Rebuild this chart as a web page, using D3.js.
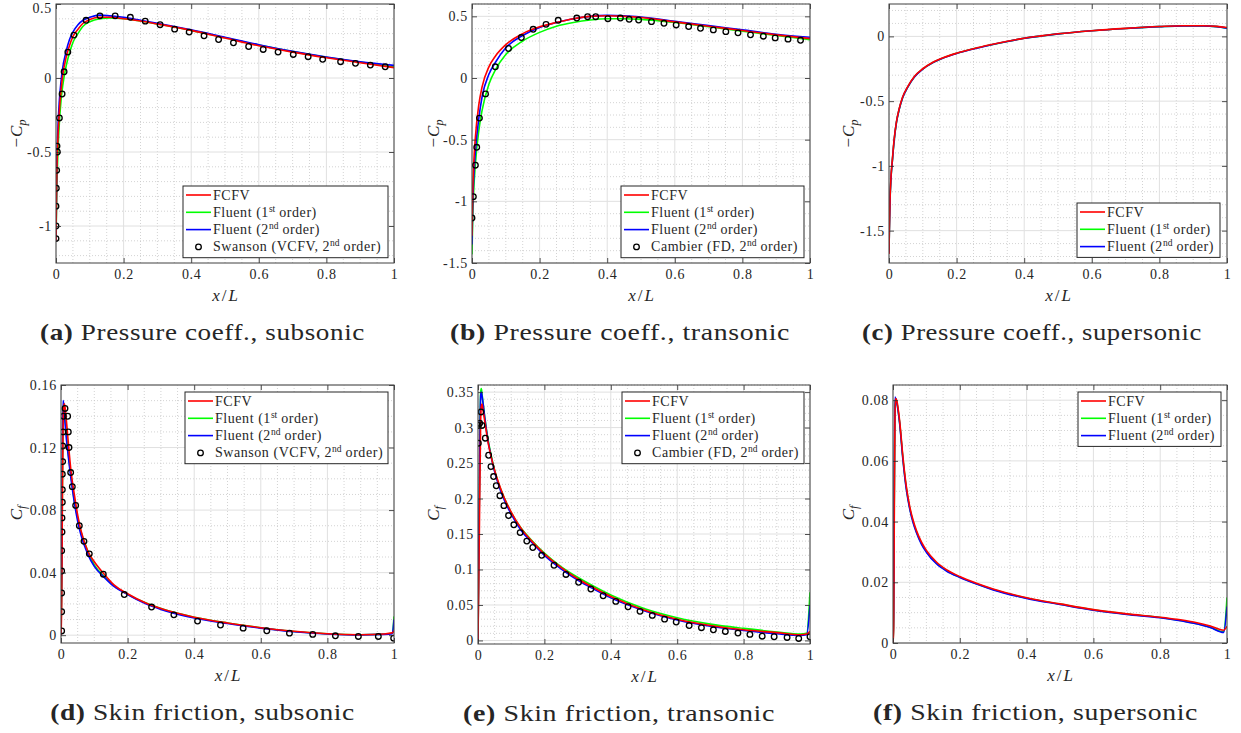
<!DOCTYPE html>
<html>
<head>
<meta charset="utf-8">
<script src="https://cdn.jsdelivr.net/npm/d3@7"></script>
<style>
  body { margin: 0; background: #fff; }
  text { font-family: "Liberation Serif", "DejaVu Serif", serif; fill: #262626; }
</style>
</head>
<body>
<script>
// x axis is the same everywhere
const xTicks = [0, 0.2, 0.4, 0.6, 0.8, 1];
const xTickLabels = ["0", "0.2", "0.4", "0.6", "0.8", "1"];

// (a) pressure coeff, subsonic
const aLineX   = [0, 0.002, 0.005, 0.01, 0.015, 0.02, 0.03, 0.04, 0.05, 0.065, 0.08, 0.1, 0.13, 0.16, 0.2, 0.25, 0.3, 0.4, 0.5, 0.6, 0.7, 0.8, 0.9, 1];
const aFCFV    = [-1.1, -0.7, -0.45, -0.22, -0.08, 0.02, 0.14, 0.22, 0.28, 0.33, 0.37, 0.395, 0.41, 0.41, 0.4, 0.385, 0.365, 0.322, 0.27, 0.218, 0.175, 0.137, 0.103, 0.07];
const aFluent1 = [-1.1, -0.8, -0.55, -0.3, -0.15, -0.05, 0.08, 0.17, 0.24, 0.3, 0.35, 0.38, 0.4, 0.405, 0.4, 0.385, 0.365, 0.322, 0.272, 0.222, 0.178, 0.14, 0.107, 0.075];
const aFluent2 = [-1.1, -0.65, -0.38, -0.15, -0.02, 0.07, 0.18, 0.26, 0.31, 0.36, 0.39, 0.41, 0.425, 0.42, 0.41, 0.39, 0.37, 0.325, 0.275, 0.225, 0.18, 0.142, 0.11, 0.085];
const aRefX = [0, 0, 0, 0.001, 0.002, 0.004, 0.003, 0.01, 0.018, 0.024, 0.035, 0.053, 0.089, 0.13, 0.175, 0.22, 0.264, 0.308, 0.351, 0.394, 0.438, 0.481, 0.525, 0.57, 0.613, 0.657, 0.702, 0.746, 0.789, 0.842, 0.886, 0.93, 0.974];
const aRefY = [-1.085, -1.0, -0.866, -0.745, -0.624, -0.5, -0.46, -0.27, -0.108, 0.042, 0.175, 0.29, 0.39, 0.42, 0.42, 0.41, 0.384, 0.36, 0.33, 0.31, 0.285, 0.26, 0.238, 0.213, 0.193, 0.175, 0.159, 0.144, 0.126, 0.11, 0.099, 0.087, 0.076];
const aYTicks = [-1, -0.5, 0, 0.5];
const aYTickLabels = ["-1", "-0.5", "0", "0.5"];

// (b) pressure coeff, transonic
const bLineX   = [0, 0.002, 0.005, 0.01, 0.02, 0.03, 0.05, 0.07, 0.1, 0.15, 0.2, 0.25, 0.3, 0.35, 0.4, 0.45, 0.5, 0.6, 0.7, 0.8, 0.9, 1];
const bFCFV    = [-1.28, -0.95, -0.7, -0.48, -0.22, -0.07, 0.09, 0.18, 0.27, 0.36, 0.415, 0.45, 0.48, 0.5, 0.505, 0.5, 0.49, 0.455, 0.42, 0.385, 0.35, 0.32];
const bFluent1 = [-1.43, -1.15, -0.92, -0.7, -0.43, -0.26, -0.05, 0.07, 0.19, 0.3, 0.37, 0.42, 0.45, 0.47, 0.48, 0.48, 0.475, 0.45, 0.415, 0.38, 0.345, 0.31];
const bFluent2 = [-1.35, -1.05, -0.82, -0.6, -0.33, -0.15, 0.03, 0.13, 0.245, 0.345, 0.41, 0.45, 0.48, 0.5, 0.508, 0.505, 0.495, 0.46, 0.425, 0.39, 0.355, 0.33];
const bRefX = [0, 0.004, 0.01, 0.014, 0.022, 0.04, 0.069, 0.108, 0.146, 0.181, 0.219, 0.255, 0.31, 0.342, 0.366, 0.402, 0.439, 0.465, 0.493, 0.531, 0.568, 0.604, 0.641, 0.676, 0.714, 0.751, 0.787, 0.824, 0.862, 0.897, 0.935, 0.972];
const bRefY = [-1.135, -0.962, -0.707, -0.562, -0.325, -0.129, 0.091, 0.239, 0.328, 0.395, 0.435, 0.468, 0.486, 0.497, 0.497, 0.481, 0.486, 0.476, 0.47, 0.457, 0.444, 0.43, 0.417, 0.403, 0.39, 0.376, 0.366, 0.35, 0.339, 0.325, 0.315, 0.306];
const bYTicks = [-1.5, -1, -0.5, 0, 0.5];
const bYTickLabels = ["-1.5", "-1", "-0.5", "0", "0.5"];

// (c) pressure coeff, supersonic
const cLineX   = [0, 0.001, 0.003, 0.006, 0.01, 0.015, 0.022, 0.03, 0.04, 0.055, 0.075, 0.1, 0.13, 0.16, 0.2, 0.25, 0.3, 0.35, 0.4, 0.45, 0.5, 0.6, 0.7, 0.8, 0.87, 0.93, 0.97, 1];
const cFCFV    = [-1.68, -1.5, -1.26, -1.08, -0.95, -0.8, -0.66, -0.56, -0.47, -0.39, -0.31, -0.25, -0.2, -0.165, -0.13, -0.095, -0.065, -0.038, -0.014, 0.004, 0.02, 0.044, 0.062, 0.076, 0.082, 0.082, 0.077, 0.068];
const cFluent1 = [-1.66, -1.5, -1.27, -1.09, -0.96, -0.81, -0.665, -0.565, -0.475, -0.393, -0.313, -0.252, -0.202, -0.167, -0.131, -0.096, -0.066, -0.039, -0.015, 0.003, 0.019, 0.043, 0.061, 0.075, 0.081, 0.081, 0.075, 0.064];
const cFluent2 = [-1.67, -1.5, -1.27, -1.09, -0.96, -0.81, -0.665, -0.565, -0.475, -0.394, -0.314, -0.253, -0.203, -0.168, -0.132, -0.097, -0.066, -0.039, -0.015, 0.003, 0.019, 0.043, 0.061, 0.075, 0.081, 0.081, 0.075, 0.064];
const cYTicks = [-1.5, -1, -0.5, 0];
const cYTickLabels = ["-1.5", "-1", "-0.5", "0"];

// (d) skin friction, subsonic
const dLineX   = [0, 0.002, 0.004, 0.006, 0.008, 0.01, 0.012, 0.015, 0.02, 0.03, 0.04, 0.05, 0.06, 0.08, 0.1, 0.13, 0.16, 0.2, 0.25, 0.3, 0.4, 0.5, 0.6, 0.7, 0.8, 0.9, 0.97, 0.995, 1];
const dFCFV    = [0, 0.02, 0.08, 0.13, 0.145, 0.148, 0.146, 0.14, 0.128, 0.105, 0.09, 0.077, 0.067, 0.054, 0.047, 0.039, 0.032, 0.0265, 0.021, 0.017, 0.0115, 0.0078, 0.0048, 0.0025, 0.0009, 0.0003, 0.0008, 0.0015, 0.003];
const dFluent1 = [0, 0.03, 0.09, 0.14, 0.147, 0.145, 0.14, 0.132, 0.12, 0.102, 0.086, 0.075, 0.066, 0.054, 0.045, 0.0375, 0.0315, 0.0262, 0.021, 0.017, 0.0115, 0.0078, 0.0048, 0.0024, 0.0009, 0.0003, 0.0006, 0.0012, 0.012];
const dFluent2 = [0, 0.04, 0.11, 0.15, 0.148, 0.142, 0.136, 0.128, 0.118, 0.1, 0.085, 0.073, 0.064, 0.052, 0.044, 0.037, 0.031, 0.026, 0.0205, 0.0165, 0.011, 0.0075, 0.0045, 0.0022, 0.0008, 0.0002, 0.0005, 0.001, 0.01];
const dRefX = [0.002, 0.002, 0.002, 0.002, 0.002, 0.003, 0.003, 0.004, 0.004, 0.004, 0.005, 0.005, 0.006, 0.007, 0.012, 0.02, 0.022, 0.024, 0.029, 0.034, 0.044, 0.055, 0.069, 0.085, 0.127, 0.19, 0.272, 0.339, 0.41, 0.479, 0.547, 0.618, 0.686, 0.756, 0.824, 0.893, 0.953, 0.999];
const dRefY = [0.0027, 0.015, 0.027, 0.041, 0.054, 0.066, 0.075, 0.085, 0.093, 0.103, 0.111, 0.121, 0.13, 0.14, 0.145, 0.14, 0.13, 0.12, 0.104, 0.095, 0.083, 0.07, 0.06, 0.052, 0.039, 0.026, 0.018, 0.013, 0.009, 0.0065, 0.0045, 0.0028, 0.0013, 0.0005, -0.0004, -0.0008, -0.0008, -0.0019];
const dYTicks = [0, 0.04, 0.08, 0.12, 0.16];
const dYTickLabels = ["0", "0.04", "0.08", "0.12", "0.16"];

// (e) skin friction, transonic
const eLineX   = [0, 0.004, 0.008, 0.01, 0.012, 0.015, 0.02, 0.03, 0.04, 0.05, 0.06, 0.08, 0.1, 0.13, 0.16, 0.2, 0.25, 0.3, 0.35, 0.4, 0.5, 0.6, 0.7, 0.8, 0.9, 0.97, 0.99, 1];
const eFCFV    = [0, 0.15, 0.31, 0.33, 0.333, 0.325, 0.31, 0.28, 0.258, 0.24, 0.225, 0.2, 0.181, 0.158, 0.141, 0.122, 0.103, 0.087, 0.074, 0.062, 0.043, 0.03, 0.021, 0.015, 0.011, 0.008, 0.009, 0.013];
const eFluent1 = [0, 0.2, 0.35, 0.355, 0.348, 0.336, 0.316, 0.284, 0.26, 0.24, 0.224, 0.2, 0.18, 0.158, 0.142, 0.123, 0.104, 0.089, 0.076, 0.064, 0.045, 0.032, 0.023, 0.017, 0.012, 0.009, 0.01, 0.068];
const eFluent2 = [0, 0.2, 0.345, 0.35, 0.345, 0.335, 0.315, 0.282, 0.258, 0.238, 0.222, 0.197, 0.178, 0.155, 0.139, 0.12, 0.101, 0.085, 0.072, 0.06, 0.042, 0.029, 0.02, 0.014, 0.0095, 0.007, 0.008, 0.05];
const eRefX = [0.001, 0.001, 0.005, 0.009, 0.012, 0.022, 0.032, 0.039, 0.047, 0.055, 0.066, 0.078, 0.092, 0.108, 0.127, 0.147, 0.165, 0.192, 0.229, 0.265, 0.303, 0.34, 0.377, 0.415, 0.452, 0.488, 0.525, 0.562, 0.597, 0.636, 0.673, 0.709, 0.745, 0.783, 0.819, 0.856, 0.892, 0.931, 0.966, 1.0];
const eRefY = [0.278, 0.303, 0.306, 0.322, 0.303, 0.285, 0.261, 0.245, 0.231, 0.218, 0.204, 0.19, 0.176, 0.163, 0.152, 0.14, 0.131, 0.12, 0.106, 0.093, 0.082, 0.0725, 0.063, 0.055, 0.0475, 0.041, 0.0353, 0.03, 0.026, 0.021, 0.018, 0.015, 0.0127, 0.0104, 0.0085, 0.006, 0.0052, 0.0042, 0.0028, 0.0052];
const eYTicks = [0, 0.05, 0.1, 0.15, 0.2, 0.25, 0.3, 0.35];
const eYTickLabels = ["0", "0.05", "0.1", "0.15", "0.2", "0.25", "0.3", "0.35"];

// (f) skin friction, supersonic
const fLineX   = [0, 0.002, 0.004, 0.006, 0.008, 0.012, 0.02, 0.03, 0.04, 0.05, 0.06, 0.07, 0.085, 0.1, 0.13, 0.16, 0.2, 0.25, 0.3, 0.4, 0.5, 0.6, 0.7, 0.8, 0.85, 0.9, 0.95, 0.99, 1];
const fFCFV    = [0, 0.005, 0.045, 0.075, 0.0805, 0.0795, 0.073, 0.061, 0.0515, 0.045, 0.0405, 0.0371, 0.0333, 0.0305, 0.0267, 0.0242, 0.0219, 0.0197, 0.0178, 0.0149, 0.0129, 0.011, 0.0096, 0.0085, 0.0078, 0.0069, 0.0056, 0.0042, 0.0055];
const fFluent1 = [0, 0.008, 0.05, 0.078, 0.0805, 0.079, 0.0725, 0.0605, 0.051, 0.0445, 0.04, 0.0367, 0.0329, 0.0301, 0.0263, 0.0239, 0.0217, 0.0195, 0.0176, 0.0148, 0.0128, 0.0109, 0.0095, 0.0084, 0.0076, 0.0066, 0.0052, 0.0037, 0.015];
const fFluent2 = [0, 0.01, 0.055, 0.081, 0.0805, 0.0788, 0.0722, 0.06, 0.0505, 0.0442, 0.0397, 0.0364, 0.0326, 0.0299, 0.0261, 0.0237, 0.0216, 0.0194, 0.0175, 0.0147, 0.0127, 0.0108, 0.0094, 0.0083, 0.0075, 0.0065, 0.0051, 0.0035, 0.012];
const fYTicks = [0, 0.02, 0.04, 0.06, 0.08];
const fYTickLabels = ["0", "0.02", "0.04", "0.06", "0.08"];

const seriesNames = ["FCFV", "Fluent (1", "Fluent (2"];
const seriesSups = ["", "st", "nd"];
const seriesColors = ["#ff0000", "#00ff00", "#0000ff"];

const panels = [
  { key: "a", x0: 56, x1: 394, y0: 4, y1: 263, yDomain: [-1.25, 0.5], yMinor: 0.1, lineX: aLineX, lines: [aFCFV, aFluent1, aFluent2], refX: aRefX, refY: aRefY, ref: "Swanson (VCFV, 2", yTicks: aYTicks, yLabels: aYTickLabels, cp: true, legend: [183, 186, 205], ylab: 17, cap: [40, 365], capB: "(a)", capT: "Pressure coeff., subsonic" },
  { key: "b", x0: 472, x1: 810, y0: 4, y1: 263, yDomain: [-1.5, 0.6], yMinor: 0.1, lineX: bLineX, lines: [bFCFV, bFluent1, bFluent2], refX: bRefX, refY: bRefY, ref: "Cambier (FD, 2", yTicks: bYTicks, yLabels: bYTickLabels, cp: true, legend: [621, 186, 183], ylab: 434, cap: [450, 790], capB: "(b)", capT: "Pressure coeff., transonic" },
  { key: "c", x0: 889, x1: 1227, y0: 4, y1: 263, yDomain: [-1.75, 0.25], yMinor: 0.1, lineX: cLineX, lines: [cFCFV, cFluent1, cFluent2], refX: null, yTicks: cYTicks, yLabels: cYTickLabels, cp: true, legend: [1077, 203, 143], ylab: 849, cap: [862, 1202], capB: "(c)", capT: "Pressure coeff., supersonic" },
  { key: "d", x0: 61, x1: 394, y0: 385, y1: 643, yDomain: [-0.005, 0.16], yMinor: 0.01, lineX: dLineX, lines: [dFCFV, dFluent1, dFluent2], refX: dRefX, refY: dRefY, ref: "Swanson (VCFV, 2", yTicks: dYTicks, yLabels: dYTickLabels, cp: false, legend: [185, 392, 203], ylab: 17, cap: [50, 355], capB: "(d)", capT: "Skin friction, subsonic" },
  { key: "e", x0: 478, x1: 810, y0: 385, y1: 644, yDomain: [-0.005, 0.36], yMinor: 0.01, lineX: eLineX, lines: [eFCFV, eFluent1, eFluent2], refX: eRefX, refY: eRefY, ref: "Cambier (FD, 2", yTicks: eYTicks, yLabels: eYTickLabels, cp: false, legend: [622, 392, 182], ylab: 434, cap: [463, 775], capB: "(e)", capT: "Skin friction, transonic" },
  { key: "f", x0: 893, x1: 1227, y0: 385, y1: 643, yDomain: [0, 0.085], yMinor: 0.005, lineX: fLineX, lines: [fFCFV, fFluent1, fFluent2], refX: null, yTicks: fYTicks, yLabels: fYTickLabels, cp: false, legend: [1078, 392, 143], ylab: 849, cap: [873, 1198], capB: "(f)", capT: "Skin friction, supersonic" }
];

const svg = d3.select("body").append("svg")
  .attr("width", 1241)
  .attr("height", 733);

panels.forEach(function(p) {
  const g = svg.append("g");
  const x = d3.scaleLinear().domain([0, 1]).range([p.x0, p.x1]);
  const y = d3.scaleLinear().domain(p.yDomain).range([p.y1, p.y0]);

  // minor grid (dotted)
  const xMinor = d3.range(0, 1.0001, 0.05).filter(v => Math.abs(v / 0.2 - Math.round(v / 0.2)) > 1e-6);
  const yStart = Math.ceil(p.yDomain[0] / p.yMinor) * p.yMinor;
  const yMajorStep = p.yTicks[1] - p.yTicks[0];
  const yMinor = d3.range(yStart, p.yDomain[1] + 1e-9, p.yMinor)
    .filter(v => Math.abs(v / yMajorStep - Math.round(v / yMajorStep)) > 1e-6);

  g.selectAll(".mx").data(xMinor).enter().append("line")
    .attr("x1", d => x(d)).attr("x2", d => x(d))
    .attr("y1", p.y0).attr("y2", p.y1)
    .attr("stroke", "#c8c8c8").attr("stroke-width", 0.8).attr("stroke-dasharray", "1,2");
  g.selectAll(".my").data(yMinor).enter().append("line")
    .attr("x1", p.x0).attr("x2", p.x1)
    .attr("y1", d => y(d)).attr("y2", d => y(d))
    .attr("stroke", "#c8c8c8").attr("stroke-width", 0.8).attr("stroke-dasharray", "1,2");

  // major grid
  g.selectAll(".gx").data(xTicks).enter().append("line")
    .attr("x1", d => x(d)).attr("x2", d => x(d))
    .attr("y1", p.y0).attr("y2", p.y1)
    .attr("stroke", "#e0e0e0").attr("stroke-width", 1);
  g.selectAll(".gy").data(p.yTicks).enter().append("line")
    .attr("x1", p.x0).attr("x2", p.x1)
    .attr("y1", d => y(d)).attr("y2", d => y(d))
    .attr("stroke", "#e0e0e0").attr("stroke-width", 1);

  // clip
  svg.append("clipPath").attr("id", "clip-" + p.key)
    .append("rect").attr("x", p.x0).attr("y", p.y0)
    .attr("width", p.x1 - p.x0).attr("height", p.y1 - p.y0);
  const plot = g.append("g").attr("clip-path", "url(#clip-" + p.key + ")");

  const line = d3.line()
    .x(d => x(d[0]))
    .y(d => y(d[1]))
    .curve(d3.curveMonotoneX);

  // draw Fluent 1st, Fluent 2nd, then FCFV on top
  [1, 2, 0].forEach(function(i) {
    plot.append("path")
      .datum(p.lineX.map((v, k) => [v, p.lines[i][k]]))
      .attr("d", line)
      .attr("fill", "none")
      .attr("stroke", seriesColors[i])
      .attr("stroke-width", 1.6);
  });

  if (p.refX) {
    plot.selectAll(".ref").data(p.refX.map((v, k) => [v, p.refY[k]])).enter()
      .append("circle")
      .attr("cx", d => x(d[0]))
      .attr("cy", d => y(d[1]))
      .attr("r", 2.8)
      .attr("fill", "none")
      .attr("stroke", "#000")
      .attr("stroke-width", 1.3);
  }

  // axes with inward ticks
  const fmtX = d => xTickLabels[xTicks.indexOf(d)];
  const fmtY = d => p.yLabels[p.yTicks.indexOf(d)];
  g.append("g").attr("transform", `translate(0,${p.y1})`)
    .call(d3.axisBottom(x).tickValues(xTicks).tickFormat(fmtX).tickSizeInner(-5).tickSizeOuter(0).tickPadding(6));
  const axL = g.append("g").attr("transform", `translate(${p.x0},0)`)
    .call(d3.axisLeft(y).tickValues(p.yTicks).tickFormat(fmtY).tickSizeInner(-5).tickSizeOuter(0).tickPadding(4));
  g.append("g").attr("transform", `translate(0,${p.y0})`)
    .call(d3.axisTop(x).tickValues(xTicks).tickFormat("").tickSizeInner(-5).tickSizeOuter(0));
  g.append("g").attr("transform", `translate(${p.x1},0)`)
    .call(d3.axisRight(y).tickValues(p.yTicks).tickFormat("").tickSizeInner(-5).tickSizeOuter(0));
  g.selectAll(".domain").remove();
  g.selectAll(".tick line").attr("stroke", "#262626").attr("stroke-width", 0.8);
  g.selectAll(".tick text").attr("font-size", 14).attr("letter-spacing", 0.7).attr("fill", "#262626");
  // keep a label sitting on the very top edge inside the picture
  axL.selectAll(".tick text").filter(d => y(d) < 8).attr("dy", "0.62em");

  // box
  g.append("rect")
    .attr("x", p.x0).attr("y", p.y0)
    .attr("width", p.x1 - p.x0).attr("height", p.y1 - p.y0)
    .attr("fill", "none").attr("stroke", "#404040").attr("stroke-width", 1);

  // axis labels
  const xl = g.append("text")
    .attr("x", (p.x0 + p.x1) / 2).attr("y", p.y1 + 38)
    .attr("text-anchor", "middle")
    .attr("font-size", 17).attr("font-style", "italic");
  xl.append("tspan").text("x");
  xl.append("tspan").attr("font-style", "normal").attr("dx", 2).text("/");
  xl.append("tspan").attr("dx", 2).text("L");

  const yl = g.append("text")
    .attr("transform", `translate(${p.ylab + 5},${(p.y0 + p.y1) / 2}) rotate(-90)`)
    .attr("text-anchor", "middle")
    .attr("font-size", 17);
  if (p.cp) yl.append("tspan").text("\u2212");
  yl.append("tspan").attr("font-style", "italic").attr("dx", 1).text("C");
  yl.append("tspan").attr("font-style", "italic").attr("font-size", 12).attr("dy", 4).text(p.cp ? "p" : "f");

  // legend
  const n = p.refX ? 4 : 3;
  const lx = p.legend[0], ly = p.legend[1], lw = p.legend[2];
  const rowH = 17.3;
  const lg = g.append("g");
  lg.append("rect")
    .attr("x", lx).attr("y", ly)
    .attr("width", lw).attr("height", n * rowH + 2.5)
    .attr("fill", "#fff").attr("stroke", "#262626").attr("stroke-width", 1);
  for (let i = 0; i < n; i++) {
    const cy = ly + 9 + i * rowH;
    if (i < 3) {
      lg.append("line")
        .attr("x1", lx + 3).attr("x2", lx + 28)
        .attr("y1", cy).attr("y2", cy)
        .attr("stroke", seriesColors[i]).attr("stroke-width", 1.6);
    } else {
      lg.append("circle")
        .attr("cx", lx + 15.5).attr("cy", cy).attr("r", 2.8)
        .attr("fill", "none").attr("stroke", "#000").attr("stroke-width", 1.3);
    }
    const t = lg.append("text")
      .attr("x", lx + 30).attr("y", cy + 4.5)
      .attr("font-size", 14).attr("letter-spacing", 0.55);
    const label = i < 3 ? seriesNames[i] : p.ref;
    const sup = i < 3 ? seriesSups[i] : "nd";
    t.append("tspan").text(label);
    if (sup) {
      t.append("tspan").attr("font-size", 9.5).attr("letter-spacing", 0).attr("dy", -5).text(sup);
      t.append("tspan").attr("dy", 5).text(" order)");
    }
  }

  // caption, stretched sideways to the wider Computer Modern width of the original
  const cx = (p.cap[0] + p.cap[1]) / 2;
  const cap = g.append("text")
    .attr("x", 0).attr("y", 0)
    .attr("text-anchor", "middle")
    .attr("font-size", 22.5)
    .attr("letter-spacing", 0.5);
  cap.append("tspan").attr("font-weight", "bold").text(p.capB);
  cap.append("tspan").text(" " + p.capT);
  const natural = cap.node().getComputedTextLength();
  const sx = Math.max(1, (p.cap[1] - p.cap[0]) / natural);
  cap.attr("transform", `translate(${cx},${p.y1 + 77}) scale(${sx.toFixed(3)},1)`);
});
</script>
</body>
</html>
